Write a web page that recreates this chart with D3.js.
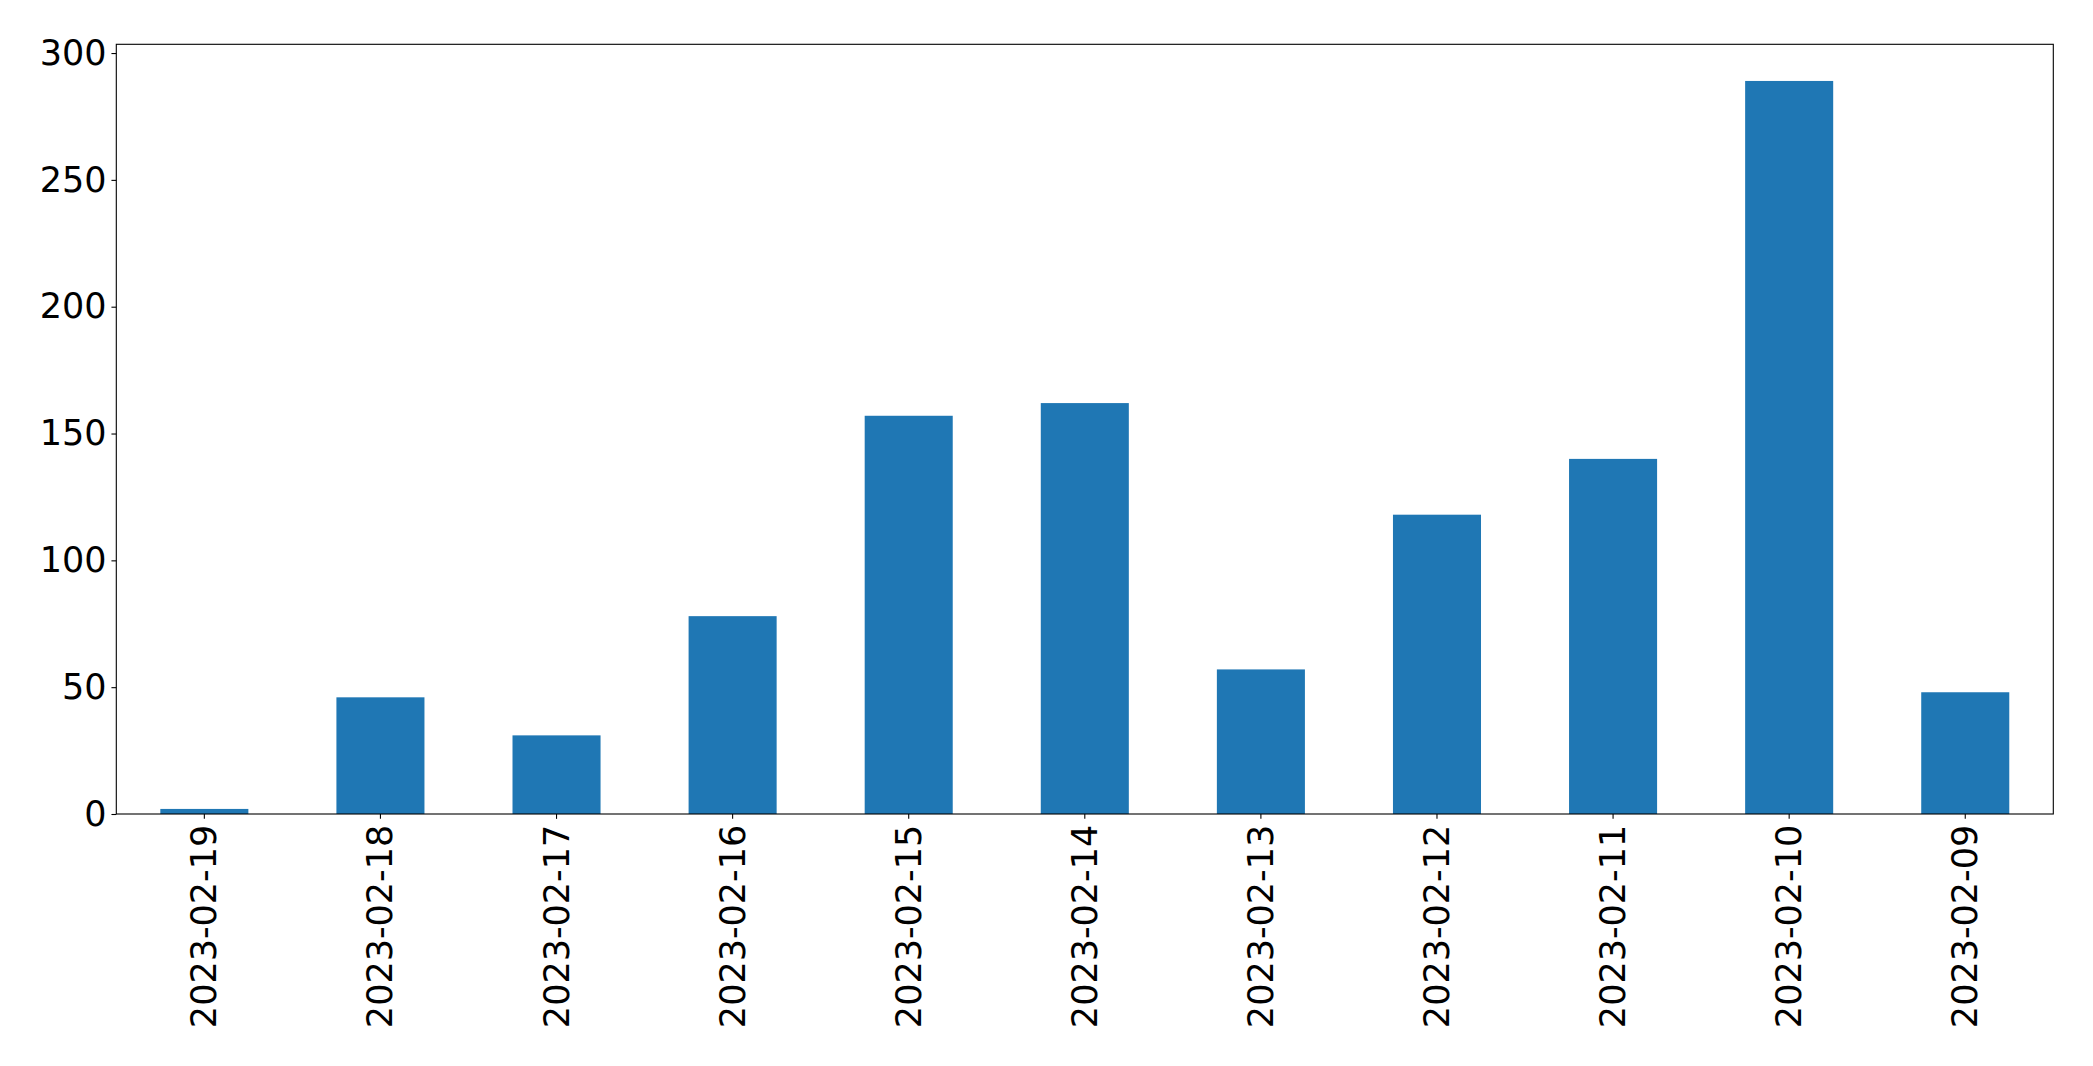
<!DOCTYPE html>
<html>
<head>
<meta charset="utf-8">
<script src="https://cdn.jsdelivr.net/npm/d3@7"></script>
<style>
  html, body { margin: 0; padding: 0; background: #fff; }
  svg { display: block; }
</style>
</head>
<body>
<script>
const categories = ["2023-02-19","2023-02-18","2023-02-17","2023-02-16","2023-02-15","2023-02-14","2023-02-13","2023-02-12","2023-02-11","2023-02-10","2023-02-09"];
const values = [2, 46, 31, 78, 157, 162, 57, 118, 140, 289, 48];
const yTicks = [0, 50, 100, 150, 200, 250, 300];

const W = 2093, H = 1066;
const margin = { left: 116.3, right: W - 2053.3, top: 44.3, bottom: H - 814 };
const fontSize = 35;
const tickLen = 4.86, pad = 4.86;

const svg = d3.select("body").append("svg").attr("width", W).attr("height", H);

const x = d3.scaleBand().domain(categories)
  .range([margin.left, W - margin.right])
  .paddingInner(0.5).paddingOuter(0.25);
const yMax = d3.max(values) * 1.05;
const y = d3.scaleLinear().domain([0, yMax]).range([H - margin.bottom, margin.top]);

// bars
svg.append("g").selectAll("rect").data(values).join("rect")
  .attr("x", (d, i) => x(categories[i]))
  .attr("width", x.bandwidth())
  .attr("y", d => y(d))
  .attr("height", d => y(0) - y(d))
  .attr("fill", "#1f77b4");

// y axis
const yAxis = d3.axisLeft(y).tickValues(yTicks).tickSize(tickLen).tickPadding(pad).tickFormat(d3.format("d"));
const gy = svg.append("g").attr("transform", `translate(${margin.left},0)`).call(yAxis);
gy.select(".domain").remove();
gy.selectAll("line").attr("stroke", "#000").attr("stroke-width", 1.1);
gy.selectAll("text").attr("font-family", "DejaVu Sans").attr("font-size", fontSize).attr("fill", "#000");

// x axis
const xAxis = d3.axisBottom(x).tickSize(tickLen).tickPadding(pad);
const gx = svg.append("g").attr("transform", `translate(0,${H - margin.bottom})`).call(xAxis);
gx.select(".domain").remove();
gx.selectAll("line").attr("stroke", "#000").attr("stroke-width", 1.1);
gx.selectAll("text")
  .attr("font-family", "DejaVu Sans").attr("font-size", fontSize).attr("fill", "#000")
  .attr("text-anchor", "end")
  .attr("dy", null)
  .attr("dominant-baseline", "central")
  .attr("y", 0)
  .attr("transform", `translate(0,${tickLen + pad + 1}) rotate(-90)`);

// frame
svg.append("rect")
  .attr("x", margin.left).attr("y", margin.top)
  .attr("width", W - margin.right - margin.left)
  .attr("height", H - margin.bottom - margin.top)
  .attr("fill", "none").attr("stroke", "#000").attr("stroke-width", 1.1);
</script>
</body>
</html>
